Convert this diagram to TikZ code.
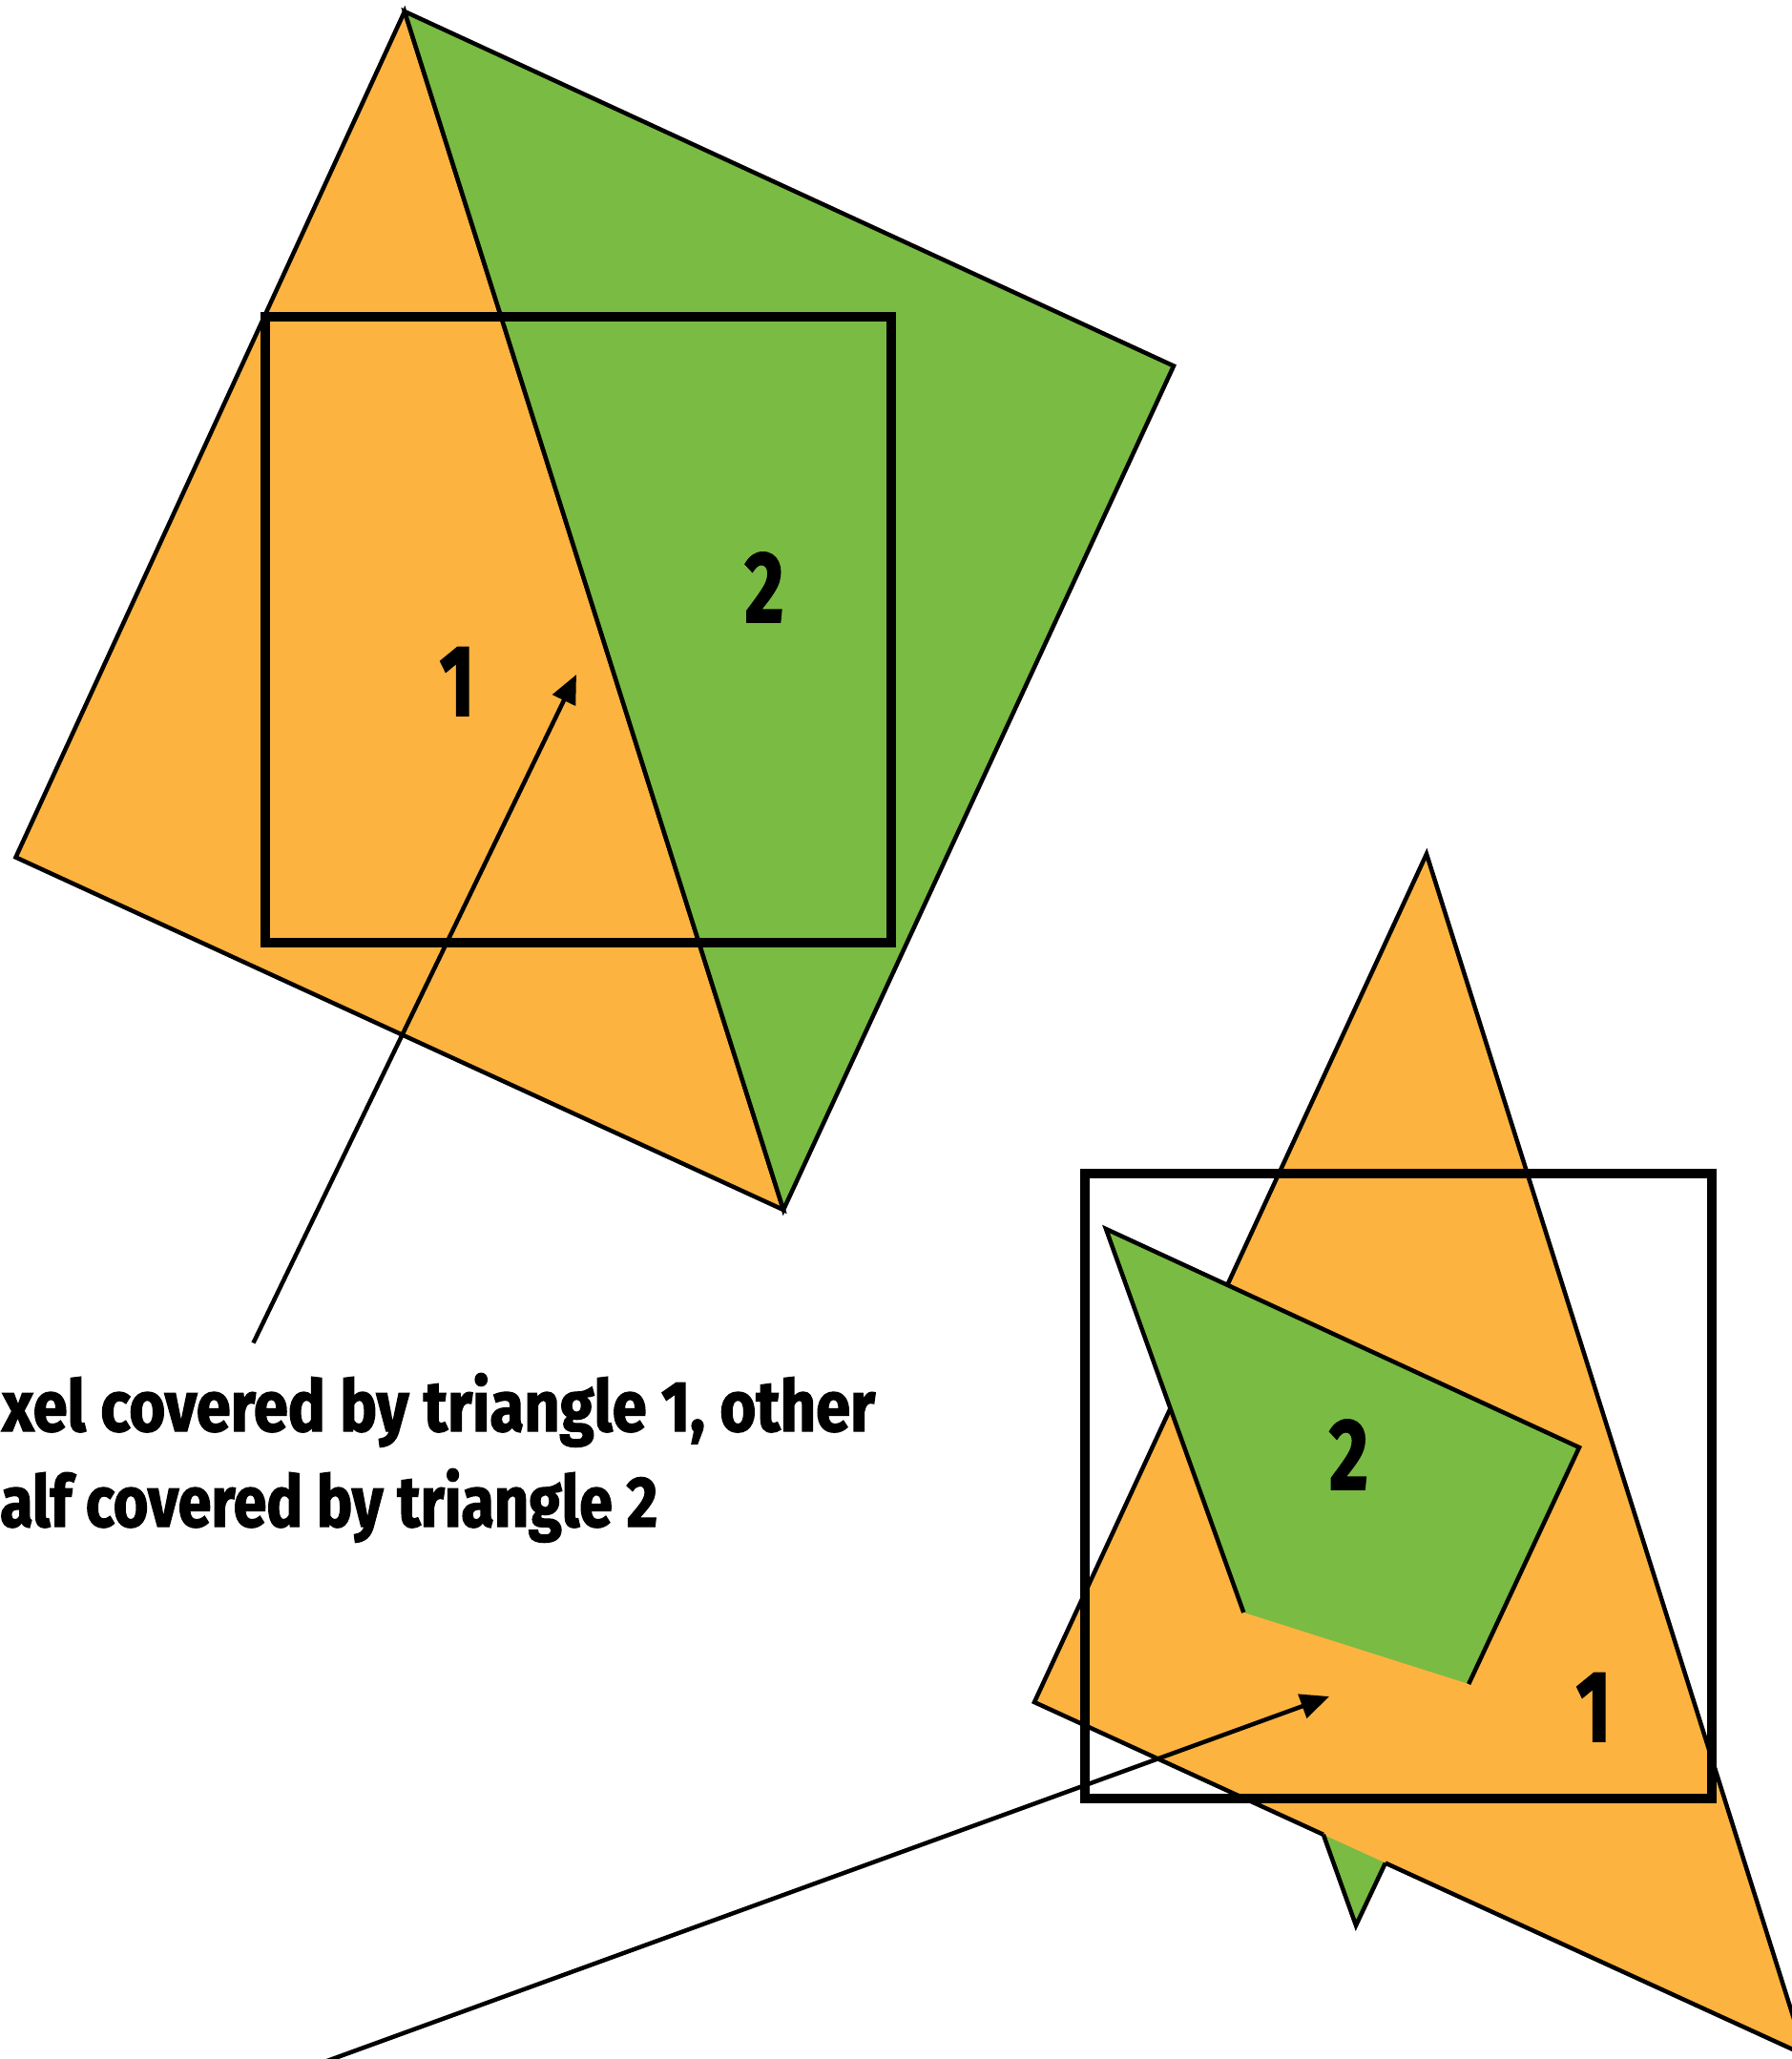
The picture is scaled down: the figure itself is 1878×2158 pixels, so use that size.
\documentclass[tikz,border=0pt]{standalone}
\usepackage{fontspec}
\usepackage{graphicx}
\usetikzlibrary{arrows.meta,calc}
\newfontfamily\cfont[FakeStretch=0.74,BoldFeatures={FakeBold=1.6}]{Fira Sans}
\definecolor{triorange}{RGB}{253,179,64}
\definecolor{trigreen}{RGB}{122,187,67}
\begin{document}
\begin{tikzpicture}[x=1pt,y=-1pt,
  edge/.style={line width=4.5pt,line join=miter},
  pixbox/.style={line width=10pt},
  pointer/.style={line width=4.5pt,-{Triangle[length=30pt,width=26pt]}},
  lbl/.style={font=\cfont\bfseries\fontsize{106}{106}\selectfont,inner sep=0pt,anchor=base},
  caption/.style={font=\cfont\bfseries\fontsize{75}{75}\selectfont,inner sep=0pt,anchor=base west}]
\useasboundingbox (0,0) rectangle (1878,2158);
\clip (0,0) rectangle (1878,2158);
% ---------- top figure ----------
\coordinate (tV) at (424,12);
\coordinate (tL) at (16.5,898.5);
\coordinate (tB) at (821,1268);
\coordinate (tR) at (1230,383.5);
\filldraw[fill=triorange,edge] (tV)--(tL)--(tB)--cycle;
\filldraw[fill=trigreen,edge] (tV)--(tR)--(tB)--cycle;
\draw[pixbox] (278,332) rectangle (934,988);
\node[lbl] (t1) at (479,750) {1};
\node[lbl] (t2) at (801,652) {2};
\coordinate (a1s) at (265.5,1407.5);
\coordinate (a1e) at (604,707);
\draw[pointer] (a1s)--(a1e);
\node[caption] (c1) at (2,1500) {\resizebox{915pt}{\height}{xel covered by triangle 1, other}};
\node[caption] (c2) at (0,1600) {\resizebox{689pt}{\height}{alf covered by triangle 2}};
% ---------- bottom figure ----------
\coordinate (bA) at (1495,895);
\coordinate (bB) at (1084,1784);
\coordinate (bC) at (1892,2154);
\coordinate (g1) at (1159,1288);
\coordinate (g2) at (1655,1517);
\coordinate (gT) at (1421,2018);
\coordinate (gP) at ($(g1)!0.5507!(gT)$);
\coordinate (gQ) at ($(g2)!0.495!(gT)$);
\coordinate (xL1) at (intersection of bA--bB and g1--g2);
\coordinate (xL2) at (intersection of bA--bB and g1--gT);
\coordinate (xB1) at (intersection of bB--bC and g1--gT);
\coordinate (xB2) at (intersection of bB--bC and g2--gT);
\fill[triorange] (bA)--(bB)--(bC)--cycle;
\fill[trigreen] (g1)--(g2)--(gT)--cycle;
\begin{scope}
  \clip (bA)--(bB)--(bC)--cycle;
  \fill[triorange] ($(gP)!-3!(gQ)$)--($(gQ)!-3!(gP)$)--++(0,900)--++(-3000,0)--cycle;
\end{scope}
\draw[edge] (xB2)--(bC)--(bA)--(xL1);
\draw[edge] (xL2)--(bB)--(xB1);
\draw[edge] (gP)--(g1)--(g2)--(gQ);
\draw[edge] (xB1)--(gT)--(xB2);
\draw[pixbox] (1137,1230) rectangle (1794,1885);
\node[lbl] (b2) at (1413.5,1561) {2};
\node[lbl] (b1) at (1670,1825) {1};
\coordinate (a2s) at (340,2161);
\coordinate (a2e) at (1393,1778);
\draw[pointer] (a2s)--(a2e);
\end{tikzpicture}
\end{document}
